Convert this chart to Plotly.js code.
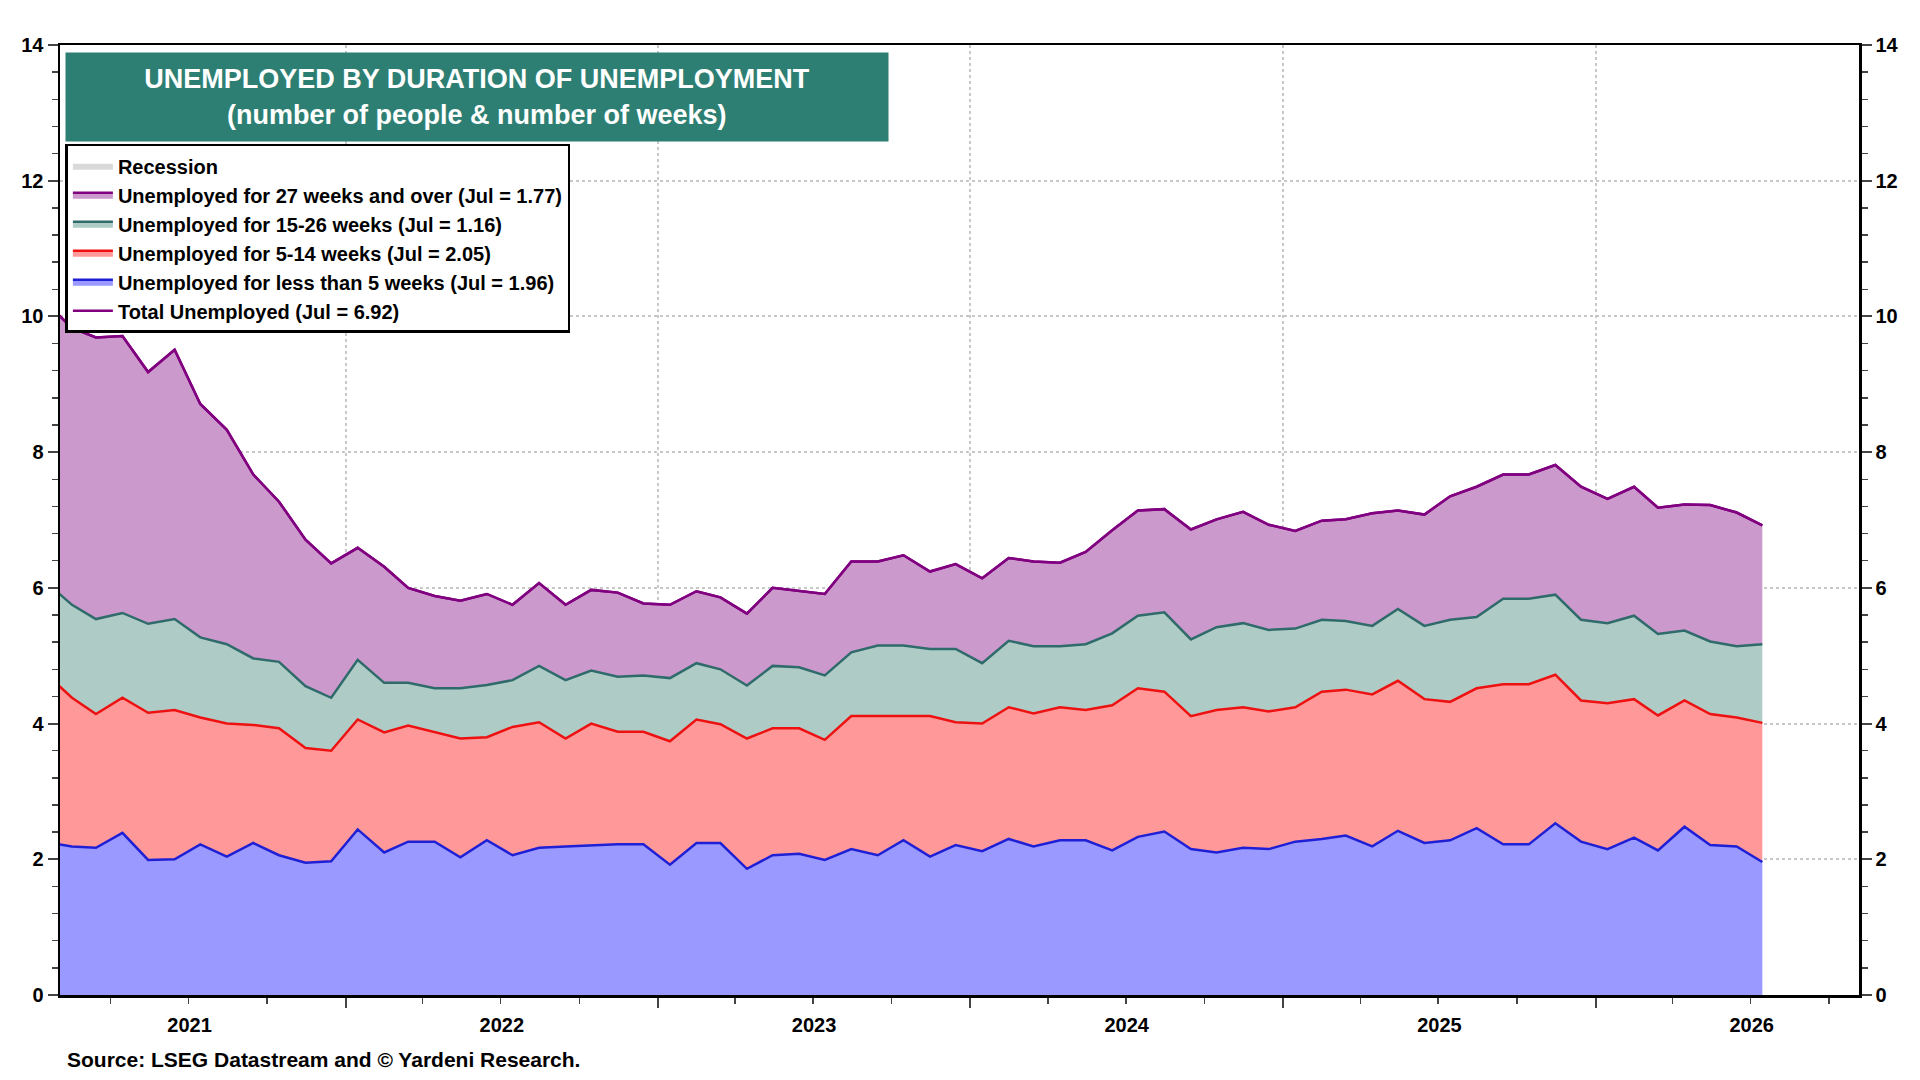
<!DOCTYPE html>
<html><head><meta charset="utf-8">
<script src="https://cdn.plot.ly/plotly-3.0.1.min.js"></script>
<style>body{margin:0;background:#fff}#c{width:1920px;height:1080px}</style>
</head><body><div id="c"></div>
<script>
// Monthly, Jan 2021 .. Jul 2026 (millions). Cumulative levels.
const startYear = 2021, startMonth = 1;
const total = [10.21,
 9.83,9.69,9.71,9.18,9.51,8.71,8.33,7.67,7.27,6.71,6.36,
 6.59,6.31,6.00,5.88,5.81,5.91,5.75,6.07,5.75,5.97,5.93,5.77,
 5.75,5.95,5.86,5.62,6.00,5.95,5.91,6.39,6.39,6.48,6.24,6.35,
 6.14,6.44,6.39,6.37,6.53,6.85,7.14,7.16,6.86,7.01,7.12,6.93,
 6.84,6.99,7.01,7.10,7.14,7.08,7.35,7.49,7.67,7.67,7.81,7.49,
 7.31,7.49,7.18,7.23,7.22,7.11,6.92];
const lessThan5 = [2.25,
 2.19,2.17,2.39,1.99,2.00,2.22,2.04,2.24,2.06,1.95,1.97,
 2.44,2.10,2.26,2.26,2.03,2.28,2.06,2.17,2.19,2.21,2.22,2.22,
 1.92,2.24,2.24,1.86,2.06,2.08,1.99,2.15,2.06,2.28,2.04,2.21,
 2.12,2.30,2.19,2.28,2.28,2.13,2.33,2.41,2.15,2.10,2.17,2.15,
 2.26,2.30,2.35,2.19,2.42,2.24,2.28,2.46,2.22,2.22,2.53,2.26,
 2.15,2.32,2.13,2.48,2.21,2.19,1.96];
const upTo14 = [4.74,
 4.38,4.14,4.38,4.16,4.20,4.09,4.00,3.98,3.93,3.64,3.60,
 4.06,3.87,3.97,3.87,3.78,3.80,3.95,4.02,3.78,4.00,3.88,3.88,
 3.74,4.06,3.99,3.78,3.93,3.93,3.76,4.11,4.11,4.11,4.11,4.02,
 4.00,4.24,4.15,4.24,4.20,4.27,4.52,4.47,4.11,4.20,4.24,4.18,
 4.24,4.47,4.50,4.43,4.63,4.36,4.32,4.52,4.58,4.58,4.72,4.34,
 4.30,4.36,4.12,4.34,4.14,4.09,4.01];
const upTo26 = [6.09,
 5.75,5.54,5.63,5.47,5.54,5.27,5.17,4.96,4.91,4.55,4.38,
 4.94,4.60,4.60,4.52,4.52,4.57,4.64,4.85,4.64,4.78,4.69,4.71,
 4.67,4.89,4.80,4.56,4.85,4.83,4.71,5.05,5.15,5.15,5.10,5.10,
 4.89,5.22,5.14,5.14,5.17,5.33,5.59,5.64,5.24,5.42,5.48,5.38,
 5.40,5.53,5.51,5.44,5.69,5.44,5.53,5.57,5.84,5.84,5.90,5.53,
 5.48,5.59,5.32,5.37,5.21,5.14,5.17];
const names = [
 'Total Unemployed (Jul = 6.92)',
 'Unemployed for less than 5 weeks (Jul = 1.96)',
 'Unemployed for 5-14 weeks (Jul = 2.05)',
 'Unemployed for 15-26 weeks (Jul = 1.16)',
 'Unemployed for 27 weeks and over (Jul = 1.77)',
 'Recession'];

const dates = total.map((_, i) => {
  const m = startMonth - 1 + i;
  const y = startYear + Math.floor(m / 12);
  const mm = (m % 12) + 1;
  return y + '-' + String(mm).padStart(2, '0') + '-15';
});

const FONT = 'Liberation Sans, Arial, sans-serif';
const traces = [
 {x: dates, y: lessThan5, name: names[1], type: 'scatter', mode: 'lines', fill: 'tozeroy',
  fillcolor: '#9999ff', line: {color: '#1f1fd6', width: 2.5}, legendrank: 2},
 {x: dates, y: upTo14, name: names[2], type: 'scatter', mode: 'lines', fill: 'tonexty',
  fillcolor: '#ff9999', line: {color: '#ee1111', width: 2.5}, legendrank: 3},
 {x: dates, y: upTo26, name: names[3], type: 'scatter', mode: 'lines', fill: 'tonexty',
  fillcolor: '#aecbc6', line: {color: '#2f6b6b', width: 2.5}, legendrank: 4},
 {x: dates, y: total, name: names[4], type: 'scatter', mode: 'lines', fill: 'tonexty',
  fillcolor: '#cc99cc', line: {color: '#800080', width: 2.5}, legendrank: 5},
 {x: dates, y: total, name: names[0], type: 'scatter', mode: 'lines',
  line: {color: '#800080', width: 2.5}, legendrank: 1},
 {x: [null], y: [null], name: names[5], type: 'scatter', mode: 'lines', fill: 'toself',
  fillcolor: '#d9d9d9', line: {color: '#d9d9d9', width: 0}, legendrank: 6},
 {x: [dates[0]], y: [0], yaxis: 'y2', mode: 'markers', marker: {opacity: 0}, showlegend: false, hoverinfo: 'skip'}
];

const yax = {
  range: [0, 14], dtick: 2, tick0: 0, ticks: 'outside', ticklen: 10, tickwidth: 2,
  tickfont: {family: FONT, size: 20, color: '#000', weight: 'bold'},
  showline: true, linecolor: '#000', linewidth: 2.5,
  showgrid: true, gridcolor: '#c8c8c8', griddash: 'dot', gridwidth: 2, zeroline: false,
  minor: {dtick: 0.4, ticks: 'outside', ticklen: 6, tickwidth: 1.5, showgrid: false}
};

const layout = {
  width: 1920, height: 1080,
  margin: {l: 60, r: 61, t: 45, b: 85},
  paper_bgcolor: '#fff', plot_bgcolor: '#fff',
  font: {family: FONT, color: '#000'},
  showlegend: true,
  xaxis: {
    type: 'date', range: ['2021-02-01', '2026-11-05'],
    tick0: '2021-01-01', dtick: 'M12', ticklabelmode: 'period', tickformat: '%Y',
    ticks: 'outside', ticklen: 10, tickwidth: 2,
    tickfont: {family: FONT, size: 20, color: '#000', weight: 'bold'},
    showline: true, linecolor: '#000', linewidth: 2.5, mirror: true,
    showgrid: true, gridcolor: '#c8c8c8', griddash: 'dot', gridwidth: 2,
    minor: {dtick: 'M3', ticks: 'outside', ticklen: 6, tickwidth: 1.5, showgrid: false}
  },
  yaxis: Object.assign({}, yax, {side: 'left'}),
  yaxis2: Object.assign({}, yax, {side: 'right', overlaying: 'y', showgrid: false}),
  legend: {
    x: 0.003, y: 0.896, xanchor: 'left', yanchor: 'top',
    bgcolor: '#fff', bordercolor: '#000', borderwidth: 2.5,
    font: {family: FONT, size: 20, color: '#000', weight: 'bold'},
    tracegroupgap: 0, itemwidth: 40
  },
  annotations: [
    {xref: 'paper', yref: 'paper', x: 0.003, y: 0.993, xanchor: 'left', yanchor: 'top',
     width: 820, height: 86, bgcolor: '#2e7f73', showarrow: false, align: 'center',
     text: 'UNEMPLOYED BY DURATION OF UNEMPLOYMENT<br>(number of people & number of weeks)',
     font: {family: FONT, size: 27, color: '#fff', weight: 'bold'}},
    {xref: 'paper', yref: 'paper', x: 0.003, y: -0.068, xanchor: 'left', yanchor: 'middle',
     showarrow: false, text: 'Source: LSEG Datastream and © Yardeni Research.',
     font: {family: FONT, size: 21, color: '#000', weight: 'bold'}}
  ]
};

Plotly.newPlot('c', traces, layout, {staticPlot: true});
</script>
</body></html>
